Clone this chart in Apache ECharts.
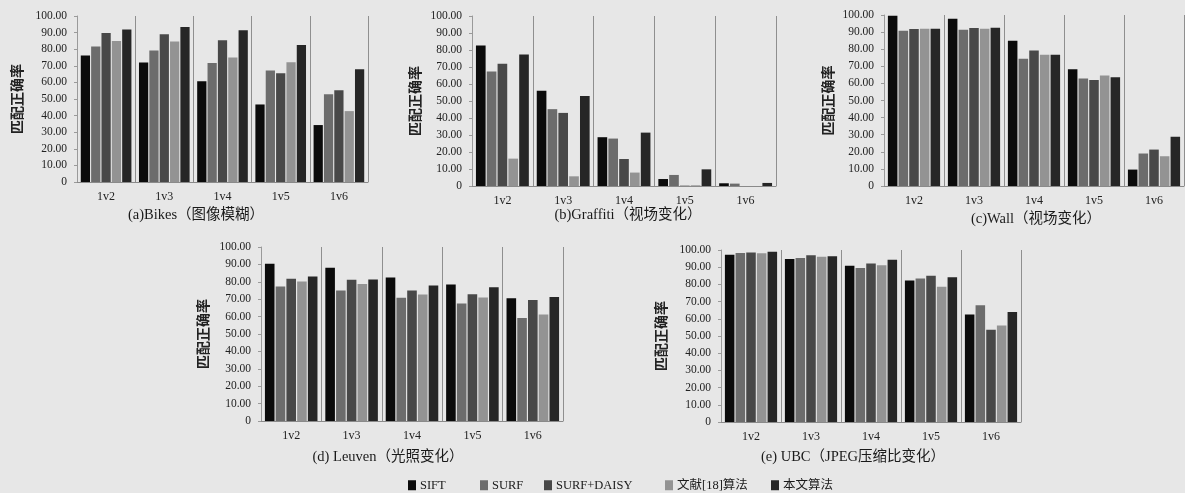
<!DOCTYPE html>
<html>
<head>
<meta charset="utf-8">
<script src="https://cdn.jsdelivr.net/npm/echarts@6/dist/echarts.min.js"></script>
<style>
  html, body { margin: 0; padding: 0; background: #e7e7e7; }
  #chart { width: 1185px; height: 493px; }
</style>
</head>
<body>
<div id="chart"></div>
<script>
// Matching accuracy (%) of five algorithms on five image sequences
const categories = ['1v2', '1v3', '1v4', '1v5', '1v6'];
const algorithms = ['SIFT', 'SURF', 'SURF+DAISY', '文献[18]算法', '本文算法'];
const yTicks = [0, 10, 20, 30, 40, 50, 60, 70, 80, 90, 100];

// rows follow `algorithms`, columns follow `categories`
const bikes = [
  [76.2, 72.0, 60.7, 46.7, 34.3],
  [81.6, 79.2, 71.7, 67.1, 52.9],
  [89.8, 89.0, 85.4, 65.5, 55.3],
  [85.0, 84.6, 75.0, 72.1, 42.7],
  [91.8, 93.4, 91.4, 82.6, 67.9]
];
const graffiti = [
  [82.7, 56.0, 28.7, 4.1, 1.6],
  [67.4, 45.2, 27.9, 6.5, 1.4],
  [71.9, 43.0, 15.9, 0.2, 0],
  [16.1, 5.7, 7.9, 0.4, 0],
  [77.4, 53.0, 31.4, 9.8, 1.8]
];
const wall = [
  [99.6, 97.8, 84.9, 68.3, 9.6],
  [90.8, 91.4, 74.4, 62.8, 19.0],
  [91.8, 92.4, 79.3, 62.0, 21.3],
  [92.0, 92.0, 76.7, 64.6, 17.4],
  [92.0, 92.6, 76.7, 63.6, 28.8]
];
const leuven = [
  [90.4, 88.1, 82.5, 78.5, 70.6],
  [77.3, 75.0, 70.8, 67.5, 59.2],
  [81.7, 81.2, 75.0, 72.9, 69.6],
  [80.2, 78.8, 72.7, 71.0, 61.2],
  [83.1, 81.3, 77.9, 76.9, 71.3]
];
const ubc = [
  [97.3, 94.8, 90.9, 82.2, 62.5],
  [98.3, 95.4, 89.6, 83.4, 67.9],
  [98.5, 96.9, 92.1, 85.1, 53.6],
  [98.1, 96.1, 91.1, 78.7, 56.1],
  [99.0, 96.3, 94.4, 84.1, 64.0]
];

const panelTitles = [
  '(a)Bikes（图像模糊）',
  '(b)Graffiti（视场变化）',
  '(c)Wall（视场变化）',
  '(d) Leuven（光照变化）',
  '(e) UBC（JPEG压缩比变化）'
];
const panelData = [bikes, graffiti, wall, leuven, ubc];

const barColors = ['#0b0b0b', '#6c6c6c', '#484848', '#939393', '#262626'];
const FONT = "'Liberation Serif', 'Noto Sans CJK SC', serif";

// plot boxes and label placement of the five panels
const panels = [
  { left: 77,  top: 16,  width: 291, height: 166, nameGap: 53, titleX: 196, titleY: 215 },
  { left: 472, top: 16,  width: 304, height: 170, nameGap: 50, titleX: 628, titleY: 215 },
  { left: 884, top: 15,  width: 300, height: 171, nameGap: 49, titleX: 1036, titleY: 219 },
  { left: 261, top: 247, width: 302, height: 174, nameGap: 51, titleX: 388, titleY: 457 },
  { left: 721, top: 250, width: 300, height: 172, nameGap: 53, titleX: 853, titleY: 457 }
];

const grid = [], xAxis = [], yAxis = [], series = [], graphic = [];

panels.forEach((p, i) => {
  grid.push({ left: p.left, top: p.top, width: p.width, height: p.height, containLabel: false });
  xAxis.push({
    type: 'category',
    gridIndex: i,
    data: categories,
    boundaryGap: true,
    axisLine: { show: true, lineStyle: { color: '#8a8a8a', width: 1 } },
    axisTick: { show: false },
    axisLabel: { margin: 9, fontFamily: FONT, fontSize: 12, color: '#222' },
    splitLine: { show: true, interval: 0, lineStyle: { color: '#8f8f8f', width: 1 } }
  });
  yAxis.push({
    type: 'value',
    gridIndex: i,
    min: yTicks[0],
    max: yTicks[yTicks.length - 1],
    interval: yTicks[1] - yTicks[0],
    name: '匹配正确率',
    nameLocation: 'middle',
    nameRotate: 90,
    nameGap: p.nameGap,
    nameTextStyle: { fontFamily: "'Noto Sans CJK SC', sans-serif", fontSize: 14, fontWeight: 'bold', color: '#222' },
    axisLine: { show: true, lineStyle: { color: '#9a9a9a', width: 1 } },
    axisTick: { show: true, length: 3, lineStyle: { color: '#9a9a9a' } },
    axisLabel: {
      margin: 10,
      fontFamily: FONT,
      fontSize: 11.5,
      color: '#222',
      formatter: v => (v === 0 ? '0' : v.toFixed(2))
    },
    splitLine: { show: false }
  });
  algorithms.forEach((name, k) => {
    series.push({
      name: name,
      type: 'bar',
      xAxisIndex: i,
      yAxisIndex: i,
      data: panelData[i][k],
      barCategoryGap: '13%',
      barGap: '12%',
      itemStyle: { color: barColors[k] },
      emphasis: { disabled: true }
    });
  });
  graphic.push({
    type: 'text',
    x: p.titleX,
    y: p.titleY,
    style: {
      text: panelTitles[i],
      fontFamily: FONT,
      fontSize: 14.5,
      fill: '#1a1a1a',
      textAlign: 'center',
      textVerticalAlign: 'middle'
    }
  });
});

// one legend entry per slot so the key spacing stays fixed
const legendLeft = [408, 480, 544, 665, 771];
const legend = algorithms.map((name, k) => ({
  data: [name],
  left: legendLeft[k],
  top: 479,
  orient: 'horizontal',
  icon: 'rect',
  itemWidth: 8,
  itemHeight: 10,
  itemGap: 0,
  padding: 0,
  selectedMode: false,
  textStyle: { fontFamily: FONT, fontSize: 12.5, color: '#1a1a1a', padding: [0, 0, 0, -1] }
}));

const chart = echarts.init(document.getElementById('chart'), null, { renderer: 'canvas' });
chart.setOption({
  backgroundColor: '#e7e7e7',
  animation: false,
  grid, xAxis, yAxis, series, legend, graphic
});
</script>
</body>
</html>
